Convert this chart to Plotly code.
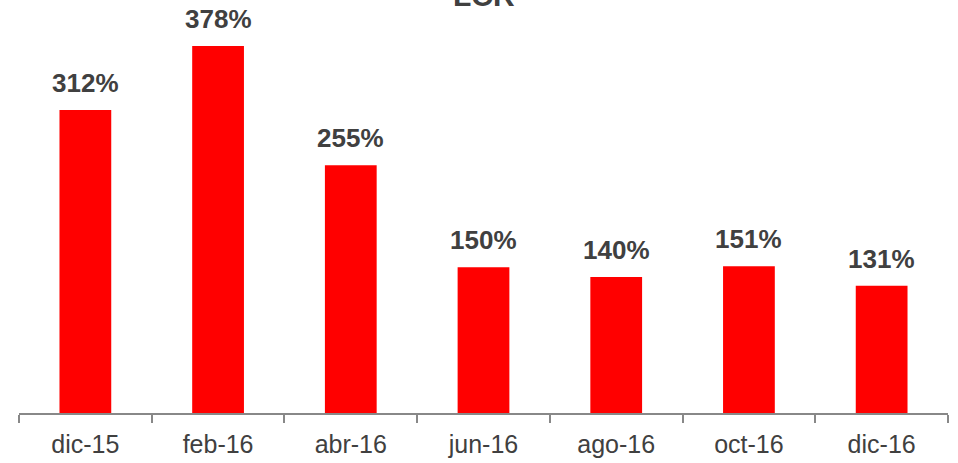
import plotly.graph_objects as go

categories = ["dic-15", "feb-16", "abr-16", "jun-16", "ago-16", "oct-16", "dic-16"]
values = [312, 378, 255, 150, 140, 151, 131]
labels = ["312%", "378%", "255%", "150%", "140%", "151%", "131%"]
title_text = "LCR"

fig = go.Figure()
fig.add_trace(go.Bar(x=categories, y=values, marker=dict(color="#FF0000", line=dict(width=0)),
                     width=0.39, hoverinfo="skip"))

for c, v, t in zip(categories, values, labels):
    fig.add_annotation(x=c, y=v, text="<b>%s</b>" % t, showarrow=False, yanchor="bottom",
                       yshift=10, font=dict(size=26, color="#404040", family="Liberation Sans, Arial"))

fig.add_annotation(x=0.5, y=1.0, xref="paper", yref="paper", text="<b>%s</b>" % title_text,
                   showarrow=False, yanchor="bottom", yshift=6,
                   font=dict(size=30, color="#404040", family="Liberation Sans, Arial"))

fig.update_layout(
    width=958, height=463,
    margin=dict(l=19, r=10, t=20, b=50, autoexpand=False),
    paper_bgcolor="white", plot_bgcolor="white",
    showlegend=False,
    xaxis=dict(showline=True, linecolor="#888888", linewidth=2, ticks="outside",
               tickson="boundaries", ticklen=8, tickwidth=2, tickcolor="#888888",
               ticklabelstandoff=8, automargin=False,
               tickfont=dict(size=25, color="#404040", family="Liberation Sans, Arial"),
               showgrid=False, zeroline=False),
    yaxis=dict(range=[0, 404.7], visible=False, showgrid=False, zeroline=False),
)

fig.write_html("out.html", config={"displayModeBar": False},
               post_script="document.body.style.margin='0';")
